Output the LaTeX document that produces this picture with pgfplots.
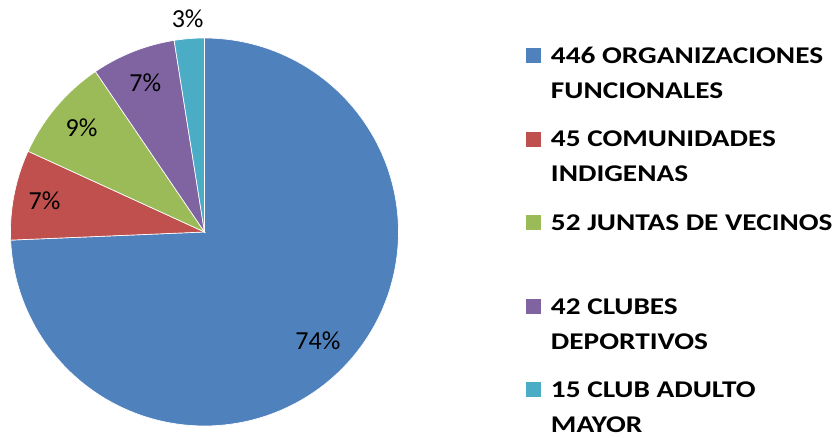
\documentclass[border=0pt]{standalone}
\usepackage{pgfplots}
\pgfplotsset{compat=1.18}
\usepackage{pgfplotstable}
\usepackage{fontspec}
\setmainfont{Carlito}
\newfontfamily\legfont{Carlito}[FakeStretch=1.22]
\definecolor{cA}{HTML}{4F81BD}
\definecolor{cB}{HTML}{C0504D}
\definecolor{cC}{HTML}{9BBB59}
\definecolor{cD}{HTML}{8064A2}
\definecolor{cE}{HTML}{4BACC6}

\pgfplotstableread{
value
446
45
52
42
15
}\piedata

\pgfplotstablegetelem{0}{value}\of\piedata \edef\vA{\pgfplotsretval}
\pgfplotstablegetelem{1}{value}\of\piedata \edef\vB{\pgfplotsretval}
\pgfplotstablegetelem{2}{value}\of\piedata \edef\vC{\pgfplotsretval}
\pgfplotstablegetelem{3}{value}\of\piedata \edef\vD{\pgfplotsretval}
\pgfplotstablegetelem{4}{value}\of\piedata \edef\vE{\pgfplotsretval}
\pgfmathsetmacro\tot{\vA+\vB+\vC+\vD+\vE}
\pgfmathsetmacro\aA{90}
\pgfmathsetmacro\aB{\aA-360*(\vA/\tot)}
\pgfmathsetmacro\aC{\aB-360*(\vB/\tot)}
\pgfmathsetmacro\aD{\aC-360*(\vC/\tot)}
\pgfmathsetmacro\aE{\aD-360*(\vD/\tot)}
\pgfmathsetmacro\aF{\aE-360*(\vE/\tot)}
\pgfmathsetmacro\mA{(\aA+\aB)/2}
\pgfmathsetmacro\mB{(\aB+\aC)/2}
\pgfmathsetmacro\mC{(\aC+\aD)/2}
\pgfmathsetmacro\mD{(\aD+\aE)/2}
\pgfmathsetmacro\mE{(\aE+\aF)/2}
\pgfmathtruncatemacro\pA{round(100*(\vA/\tot)+0.01)}
\pgfmathtruncatemacro\pB{round(100*(\vB/\tot)-0.01)}
\pgfmathtruncatemacro\pC{round(100*(\vC/\tot)+0.01)}
\pgfmathtruncatemacro\pD{round(100*(\vD/\tot)+0.01)}
\pgfmathtruncatemacro\pE{round(100*(\vE/\tot)+0.01)}

\newcommand\lbl{\fontsize{19.5}{23}\selectfont}

\begin{document}
\begin{tikzpicture}
\begin{axis}[
  scale only axis,
  width=630pt, height=328.5pt,
  xmin=-1.0541, xmax=3.2758,
  ymin=-1.0619, ymax=1.1959,
  hide axis,
  clip=false,
  legend image code/.code={\fill[#1, draw=none] (0pt,26.55pt) rectangle (11.25pt,37.8pt);},
  legend style={at={(axis cs:1.657,0.996)}, anchor=north west, draw=none, fill=none,
    inner sep=0pt, outer sep=0pt, row sep=16.6pt, column sep=7.5pt,
    font=\legfont\bfseries\fontsize{18}{26.25}\selectfont,
    nodes={inner sep=0pt, outer sep=0pt, align=left},
    cells={anchor=base west}},
]
\addplot[fill=cA, draw=white, line width=0.5pt, domain=\aB:\aA, samples=150, variable=\t] ({cos(\t)},{sin(\t)}) -- (axis cs:0,0) -- cycle;
\addlegendentry{\strut 446 ORGANIZACIONES\\\strut FUNCIONALES}
\addplot[fill=cB, draw=white, line width=0.5pt, domain=\aC:\aB, samples=40, variable=\t] ({cos(\t)},{sin(\t)}) -- (axis cs:0,0) -- cycle;
\addlegendentry{\strut 45 COMUNIDADES\\\strut INDIGENAS}
\addplot[fill=cC, draw=white, line width=0.5pt, domain=\aD:\aC, samples=40, variable=\t] ({cos(\t)},{sin(\t)}) -- (axis cs:0,0) -- cycle;
\addlegendentry{\strut 52 JUNTAS DE VECINOS\\\strut}
\addplot[fill=cD, draw=white, line width=0.5pt, domain=\aE:\aD, samples=40, variable=\t] ({cos(\t)},{sin(\t)}) -- (axis cs:0,0) -- cycle;
\addlegendentry{\strut 42 CLUBES\\\strut DEPORTIVOS}
\addplot[fill=cE, draw=white, line width=0.5pt, domain=\aF:\aE, samples=20, variable=\t] ({cos(\t)},{sin(\t)}) -- (axis cs:0,0) -- cycle;
\addlegendentry{\strut 15 CLUB ADULTO\\MAYOR}

\node[font=\lbl] at (axis cs:{0.81*cos(\mA)},{0.81*sin(\mA)}) {\pA\%};
\node[font=\lbl] at (axis cs:{0.84*cos(\mB)},{0.84*sin(\mB)}) {\pB\%};
\node[font=\lbl] at (axis cs:{0.83*cos(\mC)},{0.83*sin(\mC)}) {\pC\%};
\node[font=\lbl] at (axis cs:{0.83*cos(\mD)},{0.83*sin(\mD)}) {\pD\%};
\node[font=\lbl] at (axis cs:{1.105*cos(\mE)},{1.105*sin(\mE)}) {\pE\%};
\end{axis}
\pgfresetboundingbox
\path[use as bounding box] (current axis.south west) rectangle (current axis.north east);
\end{tikzpicture}
\end{document}
